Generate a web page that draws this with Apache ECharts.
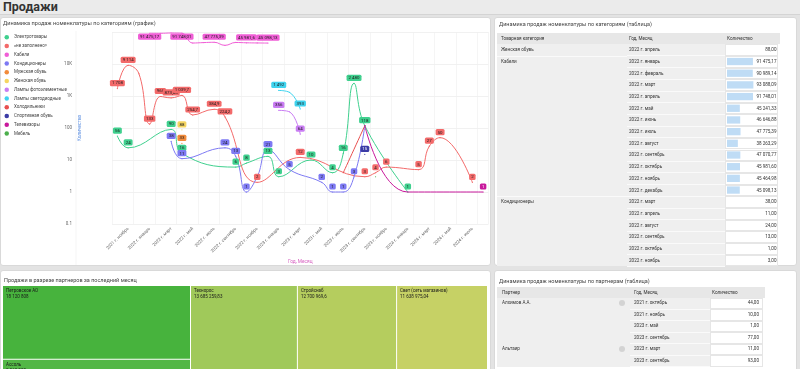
<!DOCTYPE html>
<html><head><meta charset="utf-8">
<script src="https://cdn.jsdelivr.net/npm/echarts@6.0.0/dist/echarts.min.js"></script>
<style>
body{margin:0;width:800px;height:369px;overflow:hidden;background:#e3e3e3;font-family:Roboto,"Noto Sans",sans-serif;position:relative;}
.abs{position:absolute;}
.hdr{left:0;top:0;width:800px;height:14px;background:#ebebeb;border-bottom:1px solid #d4d4d4;}
.hdr span{position:absolute;left:3px;top:0px;font-size:12.5px;font-weight:bold;color:#333;line-height:14px;}
.panel{position:absolute;background:#fff;border:1px solid #d9d9d9;border-radius:3px;box-sizing:border-box;}
.t{position:absolute;white-space:nowrap;font-size:4.6px;color:#333;line-height:6px;}
.ttl{position:absolute;white-space:nowrap;font-size:5.5px;color:#444;line-height:7px;}
</style></head>
<body>
<div class="abs hdr"><span>Продажи</span></div>
<div class="panel" style="left:0;top:17px;width:491px;height:249px;"></div>
<div class="panel" style="left:494px;top:17px;width:303px;height:249px;"></div>
<div class="panel" style="left:0;top:270px;width:491px;height:120px;"></div>
<div class="panel" style="left:494px;top:270px;width:303px;height:120px;"></div>
<div id="c1" class="abs" style="left:0;top:17px;width:490px;height:248px;"></div>
<div id="c2" class="abs" style="left:0;top:270px;width:490px;height:120px;"></div>
<div id="tr" class="abs" style="left:0;top:0;width:800px;height:369px;pointer-events:none;"></div>
<script>
// ---------- DATA ----------
const months = ['2021 г. октябрь','2021 г. ноябрь','2021 г. декабрь',
 '2022 г. январь','2022 г. февраль','2022 г. март','2022 г. апрель','2022 г. май','2022 г. июнь','2022 г. июль','2022 г. август','2022 г. сентябрь','2022 г. октябрь','2022 г. ноябрь','2022 г. декабрь',
 '2023 г. январь','2023 г. февраль','2023 г. март','2023 г. апрель','2023 г. май','2023 г. июнь','2023 г. июль','2023 г. август','2023 г. сентябрь','2023 г. октябрь','2023 г. ноябрь','2023 г. декабрь',
 '2024 г. январь','2024 г. февраль','2024 г. март','2024 г. апрель','2024 г. май','2024 г. июнь','2024 г. июль','2024 г. август'];
const N = null;
//                 0    1    2    3     4     5     6      7     8   9     10    11  12  13  14  15  16   17  18  19  20  21  22    23   24  25  26  27  28  29  30  31  32  33  34
const electro   = [56,  24,  N,   N,    N,    90,   16,    N,    N,  N,    N,    6,  8,  N,  13, 3,  N,   N,  10, N,  4,  16, 2480, 118, N,  N,  N,  1,  N,  N,  N,  N,  N,  N,  N];
const notFilled = [1708,9114,5000,133,  966,  873.86,1039.7,254.7,N, 384.9,224.2,N,  N,  2,  N,  N,  N,   12, N,  N,  N,  N,  N,    3,   4,  6,  N,  N,  5,  27, 50, N,  N,  2,  N];
const cables    = [N,   N,   N,   91475.17,90989.14,93088.09,91748.01,45241.33,46646.88,47775.39,38263.29,47070.77,45981.6,45464.98,45098.13, N,N,N,N,N,N,N,N,N,N,N,N,N,N,N,N,N,N,N,N];
const condit    = [N,   N,   N,   N,    N,    38,   11,    N,    N,  N,    24,   13, 1,  3,  21, N,  5,   N,  N,  2,  1,  1,  3,    118, N,  N,  N,  N,  N,  N,  N,  N,  N,  N,  N];
const menShoes  = [N,   N,   N,   N,    N,    N,    33,    N,    N,  N,    N,    N,  N,  N,  N,  N,  N,   N,  N,  N,  N,  N,  N,    N,   N,  N,  N,  N,  N,  N,  N,  N,  N,  N,  N];
const womShoes  = [N,   N,   N,   N,    N,    N,    88,    N,    N,  N,    N,    N,  N,  N,  N,  N,  N,   N,  N,  N,  N,  N,  N,    N,   N,  N,  N,  N,  N,  N,  N,  N,  N,  N,  N];
const lampPhoto = [N,   N,   N,   N,    N,    N,    N,     N,    N,  N,    N,    N,  N,  N,  N,  356,320, 64, N,  N,  N,  N,  N,    N,   N,  N,  N,  N,  N,  N,  N,  N,  N,  N,  N];
const lampLed   = [N,   N,   N,   N,    N,    N,    N,     N,    N,  N,    N,    N,  N,  N,  N,  1492,1300,393,N, N,  N,  N,  N,    N,   N,  N,  N,  N,  N,  N,  N,  N,  N,  N,  N];
const fridges   = [N,   N,   N,   N,    N,    N,    N,     N,    N,  N,    N,    N,  N,  N,  N,  N,  N,   N,  N,  N,  N,  4,  N,    118, N,  N,  N,  N,  N,  N,  N,  N,  N,  N,  N];
const sportShoes= [N,   N,   N,   N,    N,    N,    N,     N,    N,  N,    N,    N,  N,  N,  N,  N,  N,   N,  N,  N,  N,  N,  N,    15,  N,  N,  N,  N,  N,  N,  N,  N,  N,  N,  N];
const tvs       = [N,   N,   N,   N,    N,    N,    N,     N,    N,  N,    N,    N,  N,  N,  N,  N,  N,   N,  N,  N,  N,  N,  N,    118, N,  N,  N,  1,  N,  N,  N,  N,  N,  N,  1];
const furniture = [N,   N,   N,   N,    N,    N,    N,     N,    N,  N,    N,    N,  N,  N,  N,  N,  N,   N,  N,  N,  N,  N,  N,    N,   3,  N,  N,  N,  N,  N,  N,  N,  N,  N,  N];
const yTicks = [0.1, 1, 10, 100, 1000, 10000];

const tblCat   = ['Женская обувь','Кабели','','','','','','','','','','','','Кондиционеры','','','','',''];
const tblMonth = ['2022 г. апрель','2022 г. январь','2022 г. февраль','2022 г. март','2022 г. апрель','2022 г. май','2022 г. июнь','2022 г. июль','2022 г. август','2022 г. сентябрь','2022 г. октябрь','2022 г. ноябрь','2022 г. декабрь','2022 г. март','2022 г. апрель','2022 г. август','2022 г. сентябрь','2022 г. октябрь','2022 г. ноябрь'];
const tblQty   = [88,91475.17,90989.14,93088.09,91748.01,45241.33,46646.88,47775.39,38263.29,47070.77,45981.60,45464.98,45098.13,38,11,24,13,1,3];

const prtName  = ['Алхимов А.А.','','','','Альтаир',''];
const prtMonth = ['2021 г. октябрь','2021 г. ноябрь','2023 г. май','2023 г. сентябрь','2023 г. март','2023 г. сентябрь'];
const prtQty   = [44,10,1,77,11,93];

const tmNamesA = ['Петровское АО','Ассоль'];
const tmValuesA = [18120808, 5960000];
const tmNamesB = ['Технорос','Стройснаб','Свет (сеть магазинов)'];
const tmValuesB = [13685259.83, 12700969.6, 11638975.04];

// ---------- HELPERS ----------
function fmtNum(v, fixed){
  let s = fixed ? v.toFixed(2) : String(Math.round(v*100)/100);
  let p = s.split('.');
  let a = p[0].replace(/\B(?=(\d{3})+(?!\d))/g, ' ');
  return p[1] ? a + ',' + p[1] : a;
}
const FONT = 'Roboto';

// ---------- LINE CHART ----------
const seriesDefs = [
  ['Электротовары', electro, '#3fd08e', '#1d1d1d'],
  ['«не заполнено»', notFilled, '#f36a6a', '#1d1d1d'],
  ['Кабели', cables, '#f05ed6', '#1d1d1d'],
  ['Кондиционеры', condit, '#7d79f3', '#1d1d1d'],
  ['Мужская обувь', menShoes, '#f28b3b', '#1d1d1d'],
  ['Женская обувь', womShoes, '#f5d561', '#1d1d1d'],
  ['Лампы фотоэлементные', lampPhoto, '#c97df3', '#1d1d1d'],
  ['Лампы светодиодные', lampLed, '#3fd3ee', '#1d1d1d'],
  ['Холодильники', fridges, '#e84f4f', '#1d1d1d'],
  ['Спортивная обувь', sportShoes, '#3c3ca6', '#ffffff'],
  ['Телевизоры', tvs, '#c8199c', '#ffffff'],
  ['Мебель', furniture, '#4caf4c', '#1d1d1d']
];
const hideLbl = {
  'Кабели':[4,5,7,8,10,11,13], '«не заполнено»':[2], 'Лампы фотоэлементные':[16], 'Лампы светодиодные':[16],
  'Телевизоры':[23,27], 'Кондиционеры':[13,23], 'Холодильники':[21,23], 'Мебель':[24]
};
const GRID = {left:112, right:1.5, top:15, bottom:41, containLabel:false, outerBoundsMode:'none'};
const c1 = echarts.init(document.getElementById('c1'));
c1.setOption({
  animation:false,
  textStyle:{fontFamily:FONT},
  title:{text:'Динамика продаж номенклатуры по категориям (график)', left:3, top:4, padding:0,
    textStyle:{fontSize:5.6, fontWeight:'normal', color:'#444', fontFamily:FONT}},
  legend:{orient:'vertical', left:4.5, top:17.8, padding:0, icon:'circle', itemWidth:4.5, itemHeight:4.5, itemGap:3.75,
    textStyle:{fontSize:4.5, color:'#444', fontFamily:FONT}, data: seriesDefs.map(d=>d[0])},
  grid: GRID,
  graphic:[{type:'line', shape:{x1:76,y1:14,x2:76,y2:248}, style:{stroke:'#eeeeee', lineWidth:0.6}, silent:true}],
  xAxis:{type:'category', data:months, boundaryGap:true,
    axisLine:{show:false}, axisTick:{show:false},
    axisLabel:{interval:(i)=>i%2===1, rotate:45, fontSize:4.4, color:'#666', margin:4, fontFamily:FONT},
    splitLine:{show:true, interval:(i)=>i%2===0, lineStyle:{color:'#efefef', width:0.6}},
    name:'Год, Месяц', nameLocation:'middle', nameGap:35.5, nameMoveOverlap:false,
    nameTextStyle:{fontSize:4.8, color:'#d65fc0', fontFamily:FONT}},
  yAxis:{type:'log', logBase:10, min:0.1, max:100000,
    axisLine:{show:false}, axisTick:{show:false},
    axisLabel:{margin:40, fontSize:4.5, color:'#666', fontFamily:FONT, showMaxLabel:false,
      formatter:v=>{ v=parseFloat(Number(v).toPrecision(6)); if(!yTicks.includes(v)) return ''; return v>=1000 ? (v/1000)+'K' : String(v);} },
    splitLine:{lineStyle:{color:'#e8e8e8', width:0.6}},
    name:'Количество', nameLocation:'middle', nameGap:30, nameMoveOverlap:false,
    nameTextStyle:{fontSize:4.8, color:'#5b8ee0', fontFamily:FONT}},
  series: seriesDefs.map(([name, arr, color, tc])=>{
    const hid = hideLbl[name] || [];
    return {
      name, type:'line', connectNulls:true, smooth:0.45, symbol:'circle', symbolSize:1.2, showSymbol:true,
      data: arr.map((v,i)=> v==null ? '-' : (hid.includes(i) ? {value:v, label:{show:false}} : v)),
      itemStyle:{color}, lineStyle:{width:1, color},
      emphasis:{disabled:true},
      label:{show:true, position:'top', distance:1.8, formatter:p=>fmtNum(p.value), fontSize:4.4, fontFamily:FONT,
        color:tc, backgroundColor:color, padding:[1.4,2,0.8,2], borderRadius:1.5},
      labelLayout:(params)=>{ const r=params.labelRect; const lim=GRID.top+1.5; if(r.y<lim) return {dy:lim-r.y}; return {}; }
    };
  })
});

// ---------- TREEMAP ----------
const tmColorsA = ['#47b33d','#53b746'];
const tmColorsB = ['#a0c95a','#b5cd5e','#c6d165'];
const tmLabel = {show:true, position:'insideTopLeft', padding:[2.5,3], fontSize:4.5, lineHeight:5.6, color:'#1a1a1a', fontFamily:FONT,
  formatter:p=>p.name+'\n'+fmtNum(p.value)};
function tmSeries(names, vals, colors, left, width, ratio){
  return {type:'treemap', left, top:16, width, height:97, roam:false, nodeClick:false, sort:false, squareRatio:ratio,
    breadcrumb:{show:false}, label:tmLabel, upperLabel:{show:false},
    itemStyle:{borderColor:'#ffffff', borderWidth:0, gapWidth:1},
    levels:[{itemStyle:{borderWidth:0, gapWidth:1, borderColor:'#fff'}}],
    emphasis:{disabled:true},
    data: names.map((n,i)=>({name:n, value:vals[i], itemStyle:{color:colors[i]}}))};
}
const c2 = echarts.init(document.getElementById('c2'));
c2.setOption({
  animation:false,
  title:{text:'Продажи в разрезе партнеров за последний месяц', left:4, top:7.5, padding:0, textStyle:{fontSize:5.5, fontWeight:'normal', color:'#444', fontFamily:FONT}},
  series:[ tmSeries(tmNamesA, tmValuesA, tmColorsA, 3, 187, 60), tmSeries(tmNamesB, tmValuesB, tmColorsB, 191, 296, 1.618) ]
});

// ---------- TABLES ----------
const root = document.getElementById('tr');
function div(cls, css, txt){ const d=document.createElement('div'); d.className=cls; d.style.cssText=css; if(txt!=null) d.textContent=txt; root.appendChild(d); return d; }

// top-right table
div('ttl','left:499px;top:20.5px;','Динамика продаж номенклатуры по категориям (таблица)');
div('abs','left:497px;top:32.5px;width:283px;height:11.2px;background:#e7e7e7;');
div('t','left:501px;top:35.5px;','Товарная категория');
div('t','left:629px;top:35.5px;','Год, Месяц');
div('t','left:727px;top:35.5px;','Количество');
const R0 = 44.2, RH = 11.7;
div('abs',`left:497px;top:${R0}px;width:228px;height:${RH*tblQty.length}px;background:#efefef;`);
tblQty.forEach((q,i)=>{
  const top = R0 + i*RH;
  div('abs',`left:627px;top:${top+RH-0.5}px;width:98px;height:0.6px;background:#fafafa;`);
  if (i>0 && tblCat[i]) div('abs',`left:497px;top:${top-0.3}px;width:130px;height:0.6px;background:#fafafa;`);
  div('abs',`left:725px;top:${top}px;width:53px;height:${RH}px;box-sizing:border-box;border:0.6px solid #e6e6e6;background:#fff;`);
});
const bd = document.createElement('div'); bd.style.cssText=`position:absolute;left:725px;top:${R0}px;width:53px;height:${RH*tblQty.length}px;`;
root.appendChild(bd);
tblQty.forEach((q,i)=>{
  const top = R0 + i*RH;
  if (tblCat[i]) div('t',`left:501px;top:${top+2.9}px;`, tblCat[i]);
  div('t',`left:629px;top:${top+2.9}px;`, tblMonth[i]);
  div('t',`left:725px;width:51.5px;text-align:right;top:${top+2.9}px;`, fmtNum(q,true));
});
const c3 = echarts.init(bd);
c3.setOption({animation:false, grid:{left:2,right:0,top:0,bottom:0,outerBoundsMode:'none'},
  xAxis:{type:'value', min:0, max:180000, show:false},
  yAxis:{type:'category', inverse:true, show:false, data:tblMonth.map((m,i)=>i)},
  series:[{type:'bar', data:tblQty, barWidth:7.3, itemStyle:{color:'#bfdcf5'}, silent:true}]});
root.querySelectorAll('.t').forEach(e=>{e.style.zIndex=3;});

// bottom-right table
div('ttl','left:499px;top:277.5px;','Динамика продаж номенклатуры по партнерам (таблица)');
div('abs','left:497px;top:287px;width:268px;height:10.5px;background:#e7e7e7;');
div('t','left:502px;top:289.5px;z-index:3;','Партнер');
div('t','left:634px;top:289.5px;z-index:3;','Год, Месяц');
div('t','left:712px;top:289.5px;z-index:3;','Количество');
const P0 = 297.5, PH = 11.5;
div('abs',`left:497px;top:${P0}px;width:213px;height:${PH*prtQty.length}px;background:#efefef;`);
prtQty.forEach((q,i)=>{
  const top = P0 + i*PH;
  div('abs',`left:630px;top:${top+PH-0.5}px;width:80px;height:0.6px;background:#fafafa;`);
  div('abs',`left:710px;top:${top}px;width:53px;height:${PH}px;box-sizing:border-box;border:0.6px solid #e6e6e6;background:#fff;`);
  if (prtName[i]) {
    div('t',`left:502px;top:${top+2.8}px;z-index:3;`, prtName[i]);
    div('abs',`left:619px;top:${top+2.7}px;width:6px;height:6px;border-radius:50%;background:#d3d3d3;`);
  }
  div('t',`left:634px;top:${top+2.8}px;z-index:3;`, prtMonth[i]);
  div('t',`left:710px;width:49px;text-align:right;top:${top+2.8}px;z-index:3;`, fmtNum(q,true));
});
</script>
</body></html>
